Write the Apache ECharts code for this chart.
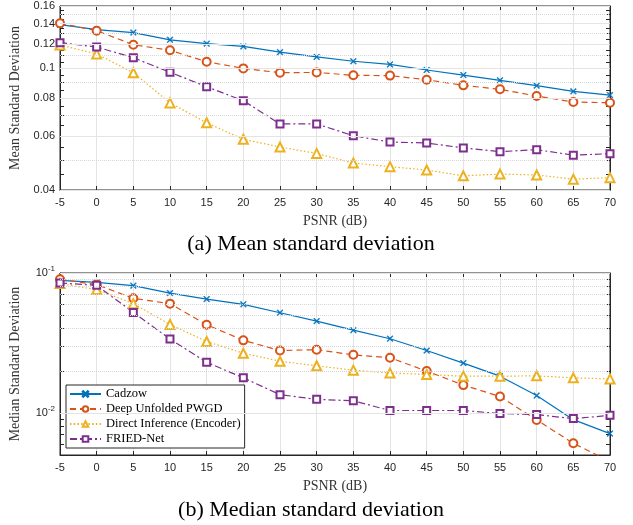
<!DOCTYPE html>
<html><head><meta charset="utf-8">
<script src="https://cdn.jsdelivr.net/npm/echarts@6/dist/echarts.min.js"></script>
<style>html,body{margin:0;padding:0;background:#fff}#c{width:633px;height:525px}</style>
</head><body><div id="c"></div>
<script>
const psnr = [-5,0,5,10,15,20,25,30,35,40,45,50,55,60,65,70];
const meanCadzow = [0.139,0.134,0.131,0.124,0.1205,0.118,0.113,0.109,0.1055,0.103,0.0988,0.0951,0.0914,0.0878,0.0841,0.0818];
const meanPWGD = [0.1405,0.1328,0.1195,0.1146,0.1051,0.1000,0.0968,0.0970,0.0949,0.0947,0.0918,0.0880,0.0854,0.0812,0.0776,0.0772];
const meanDirect = [0.1193,0.1115,0.0968,0.0771,0.0664,0.0586,0.0553,0.0527,0.0490,0.0477,0.0465,0.0445,0.0451,0.0448,0.0434,0.0439];
const meanFRIED = [0.1214,0.1175,0.1084,0.0971,0.0871,0.0784,0.0658,0.0658,0.0602,0.0574,0.0570,0.0549,0.0534,0.0542,0.0520,0.0526];
const medCadzow = [0.0886,0.0858,0.0812,0.0719,0.0651,0.0597,0.0520,0.0453,0.0390,0.0339,0.0279,0.0227,0.0183,0.0133,0.00895,0.00711];
const medPWGD = [0.0901,0.0826,0.0659,0.0604,0.0427,0.0330,0.0279,0.0283,0.0260,0.0248,0.0199,0.0158,0.0131,0.0089,0.00606,0.0045];
const medDirect = [0.0840,0.0761,0.0604,0.0429,0.0324,0.0267,0.0234,0.0217,0.0202,0.0193,0.0188,0.0183,0.0183,0.0184,0.0178,0.0175];
const medFRIED = [0.0848,0.0816,0.0523,0.0337,0.0230,0.0178,0.0135,0.0125,0.0122,0.0104,0.0104,0.0104,0.00989,0.00972,0.0091,0.0096];
const meanTicks = [0.04,0.06,0.08,0.1,0.12,0.14,0.16];
const meanMinor = [0.045,0.05,0.055,0.065,0.07,0.075,0.085,0.09,0.095,0.105,0.11,0.115,0.125,0.13,0.135,0.145,0.15,0.155];
const medTicks = [0.01,0.1];
const medMinor = [0.006,0.007,0.008,0.009,0.02,0.03,0.04,0.05,0.06,0.07,0.08,0.09];
const names = ['Cadzow','Deep Unfolded PWGD','Direct Inference (Encoder)','FRIED-Net'];
const xTitle = 'PSNR (dB)';
const yTitles = ['Mean Standard Deviation','Median Standard Deviation'];
const captions = ['(a) Mean standard deviation','(b) Median standard deviation'];

const colors = ['#0072BD','#D95319','#EDB120','#7E2F8E'];
const XSYM = 'path://M0,1L1,0L5,4L9,0L10,1L6,5L10,9L9,10L5,6L1,10L0,9L4,5Z';
const symbols = [XSYM,'emptyCircle','emptyTriangle','emptyRect'];
const symSizes = [6,8,9,7];
const dashes = ['solid',[6,4],[1.5,2.2],[7,3,2,3]];
const SERIF = 'Liberation Serif';
const SANS = 'Liberation Sans';
const AX = '#262626';

const grids = [
  {left:60, right:23, top:6, height:184, show:true, borderColor:AX, borderWidth:1, backgroundColor:'transparent'},
  {left:60, right:23, top:273, height:182, show:true, borderColor:AX, borderWidth:1, backgroundColor:'transparent'}
];
function xAxes(g){
  return [
    {type:'value', gridIndex:g, min:-5, max:70, interval:5, position:'bottom',
     axisLine:{show:true, onZero:false, lineStyle:{color:AX}}, axisTick:{inside:true, length:4, lineStyle:{color:AX}},
     axisLabel:{fontSize:11, color:AX, fontFamily:SANS, margin:7},
     splitLine:{show:true, lineStyle:{color:'#e4e4e4', width:1}},
     name:xTitle, nameLocation:'middle', nameGap:24, nameTextStyle:{fontFamily:SERIF, fontSize:14, color:'#333'}},
    {type:'value', gridIndex:g, min:-5, max:70, interval:5, position:'top',
     axisLine:{show:true, onZero:false, lineStyle:{color:AX}}, axisTick:{inside:true, length:4, lineStyle:{color:AX}},
     axisLabel:{show:false}, splitLine:{show:false}}
  ];
}
function yAxes(g, min, max, ticks, minor, fmt, rich){
  const allTicks = ticks.concat(minor);
  const base = {type:'log', gridIndex:g, min:min, max:max,
     axisLine:{show:true, onZero:false, lineStyle:{color:AX}}, splitLine:{show:false}};
  return [
    Object.assign({}, base, {position:'left',
      axisTick:{inside:true, length:4, customValues:allTicks, lineStyle:{color:AX}},
      axisLabel:{customValues:ticks, formatter:fmt, fontSize:11, color:AX, fontFamily:SANS, margin:5, rich:rich},
      name:yTitles[g], nameLocation:'middle', nameGap:38, nameTextStyle:{fontFamily:SERIF, fontSize:14, color:'#333'}}),
    Object.assign({}, base, {position:'right',
      axisTick:{inside:true, length:4, customValues:allTicks, lineStyle:{color:AX}},
      axisLabel:{show:false}})
  ];
}
const meanFmt = v => String(Number(v.toFixed(2)));
const medFmt = v => '{b|10}{s|' + Math.round(Math.log10(v)) + '}';
const medRich = {b:{fontSize:11, fontFamily:SANS, color:AX}, s:{fontSize:8, fontFamily:SANS, color:AX, padding:[0,0,8,0]}};

function gridLines(xi, yi, vals, color, type){
  return {type:'line', xAxisIndex:xi, yAxisIndex:yi, data:[], silent:true, z:0,
    markLine:{silent:true, symbol:['none','none'], label:{show:false}, animation:false,
      lineStyle:{color:color, type:type, width:1}, emphasis:{disabled:true},
      data: vals.map(v => ({yAxis:v}))}};
}
function dataSeries(xi, yi, arrs){
  return arrs.map((arr, k) => ({
    name:names[k], type:'line', xAxisIndex:xi, yAxisIndex:yi, z:3,
    data: psnr.map((x, i) => [x, arr[i]]),
    symbol:symbols[k], symbolSize:symSizes[k], showSymbol:true,
    lineStyle:{color:colors[k], width:1.2, type:dashes[k]},
    itemStyle:{color:colors[k], borderColor:colors[k], borderWidth:k===0?0.6:1.2},
    clip:true, animation:false, emphasis:{disabled:true}
  }));
}

const series = [
  gridLines(0,0,meanMinor,'#d6d6d6','dotted'),
  gridLines(0,0,meanTicks,'#e4e4e4','solid'),
  gridLines(2,2,medMinor,'#d6d6d6','dotted'),
  gridLines(2,2,medTicks,'#e4e4e4','solid'),
  ...dataSeries(0,0,[meanCadzow,meanPWGD,meanDirect,meanFRIED]),
  ...dataSeries(2,2,[medCadzow,medPWGD,medDirect,medFRIED])
];

const chart = echarts.init(document.getElementById('c'), null, {renderer:'canvas'});
chart.setOption({
  backgroundColor:'#fff',
  animation:false,
  grid:grids,
  xAxis:[...xAxes(0), ...xAxes(1)],
  yAxis:[...yAxes(0,0.04,0.16,meanTicks,meanMinor,meanFmt,null), ...yAxes(1,0.005,0.1,medTicks,medMinor,medFmt,medRich)],
  legend:{data:names, orient:'vertical', left:66, top:385, itemWidth:31, itemHeight:7, itemGap:1,
    padding:[2,4,2,3], borderColor:AX, borderWidth:1, backgroundColor:'#fff',
    textStyle:{fontFamily:SERIF, fontSize:12.5, lineHeight:14, color:'#000'}, selectedMode:false},
  series:series,
  graphic:[
    {type:'text', x:311, y:244, style:{text:captions[0], font:'22px "Liberation Serif"', fill:'#000', textAlign:'center', textVerticalAlign:'middle'}},
    {type:'text', x:311, y:510, style:{text:captions[1], font:'22px "Liberation Serif"', fill:'#000', textAlign:'center', textVerticalAlign:'middle'}}
  ]
});
</script></body></html>
